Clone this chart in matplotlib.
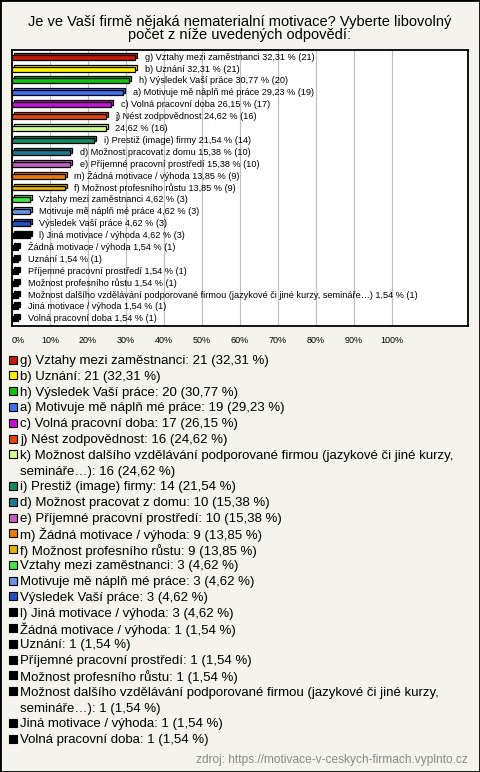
import textwrap
import numpy as np
import matplotlib
matplotlib.use("Agg")
from matplotlib import pyplot as plt
from matplotlib import transforms
from matplotlib.patches import Rectangle

plt.rcParams['font.family'] = ['Liberation Sans', 'DejaVu Sans']

# answers, top to bottom
names = [
    "g) Vztahy mezi zaměstnanci",
    "b) Uznání",
    "h) Výsledek Vaší práce",
    "a) Motivuje mě náplň mé práce",
    "c) Volná pracovní doba",
    "j) Nést zodpovědnost",
    "k) Možnost dalšího vzdělávání podporované firmou (jazykové či jiné kurzy, semináře…)",
    "i) Prestiž (image) firmy",
    "d) Možnost pracovat z domu",
    "e) Příjemné pracovní prostředí",
    "m) Žádná motivace / výhoda",
    "f) Možnost profesního růstu",
    "Vztahy mezi zaměstnanci",
    "Motivuje mě náplň mé práce",
    "Výsledek Vaší práce",
    "l) Jiná motivace / výhoda",
    "Žádná motivace / výhoda",
    "Uznání",
    "Příjemné pracovní prostředí",
    "Možnost profesního růstu",
    "Možnost dalšího vzdělávání podporované firmou (jazykové či jiné kurzy, semináře…)",
    "Jiná motivace / výhoda",
    "Volná pracovní doba",
]
counts = [21, 21, 20, 19, 17, 16, 16, 14, 10, 10, 9, 9, 3, 3, 3, 3, 1, 1, 1, 1, 1, 1, 1]
percents = [32.31, 32.31, 30.77, 29.23, 26.15, 24.62, 24.62, 21.54, 15.38, 15.38, 13.85, 13.85,
            4.62, 4.62, 4.62, 4.62, 1.54, 1.54, 1.54, 1.54, 1.54, 1.54, 1.54]
# the chart cuts the name of the k) answer
bar_names = names[:6] + [""] + names[7:]
colors = ["#c41a08", "#ffee00", "#12c012", "#4270f0", "#c410d4", "#e44408", "#d4ff90",
          "#128a5c", "#1e7890", "#c05ec0", "#ea7a08", "#e4b408", "#44e444", "#6a94e0",
          "#2450c0", "#000000", "#000000", "#000000", "#000000", "#000000", "#000000",
          "#000000", "#000000"]
xticks = [0, 10, 20, 30, 40, 50, 60, 70, 80, 90, 100]
title = "Je ve Vaší firmě nějaká nematerialní motivace? Vyberte libovolný\npočet z níže uvedených odpovědí:"
source = "zdroj: https://motivace-v-ceskych-firmach.vyplnto.cz"

W, H = 480, 772
bg = "#f4f4ec"
fig = plt.figure(figsize=(W / 100, H / 100), dpi=100, facecolor=bg)

def fx(px):
    return px / W

def fy(py):
    return 1 - py / H

def fmt(v):
    return ("%.2f" % v).replace(".", ",")

fig.text(0.5, fy(28.5), title, ha="center", va="center", fontsize=10.5, linespacing=0.95)

ax = fig.add_axes([fx(12), fy(326), fx(456), (326 - 50) / H])
ax.set_facecolor("white")
ypos = np.arange(len(names))

# 3d look: back face shifted up/right, then front face
shift = transforms.ScaledTranslation(2 / 100, 2 / 100, fig.dpi_scale_trans)
back = ax.barh(ypos, percents, height=0.42, color=colors, edgecolor="black", linewidth=0.9,
               zorder=2)
for b in back:
    b.set_transform(ax.transData + shift)
ax.barh(ypos, percents, height=0.42, color=colors, edgecolor="black", linewidth=0.9, zorder=3)

for i in range(len(names)):
    lab = (bar_names[i] + " " if bar_names[i] else "") + "%s %% (%d)" % (fmt(percents[i]), counts[i])
    ax.annotate(lab, (percents[i], ypos[i]), xytext=(7, 0), textcoords="offset points",
                va="center", ha="left", fontsize=6.6, zorder=4)

ax.set_xlim(0, 120)
ax.set_ylim(len(names) - 0.4, -0.6)
ax.set_xticks(xticks)
ax.set_xticklabels(["%d%%" % t for t in xticks], fontsize=6.5)
ax.get_xticklabels()[0].set_ha("left")
ax.set_yticks([])
ax.tick_params(axis="x", length=0, pad=7)
ax.grid(axis="x", color="#c0c0c0", linewidth=0.9, zorder=0)
for s in ax.spines.values():
    s.set_linewidth(1.3)

# legend
y = 361
for i in range(len(names)):
    fig.add_artist(Rectangle((fx(9), fy(y + 2.5)), fx(8), 8 / H, facecolor=colors[i],
                             edgecolor="black", linewidth=0.8))
    lines = textwrap.wrap("%s: %d (%s %%)" % (names[i], counts[i], fmt(percents[i])), 75)
    for ln in lines:
        fig.text(fx(20), fy(y), ln, ha="left", va="center", fontsize=9.5)
        y += 15.8

fig.text(fx(468), fy(760), source, ha="right", va="center", fontsize=8.6, color="#8a8a8a")

fig.add_artist(Rectangle((0, 0), 1, 1, fill=False, edgecolor="black", linewidth=2))

plt.savefig("out.png", dpi=100, facecolor=bg)
